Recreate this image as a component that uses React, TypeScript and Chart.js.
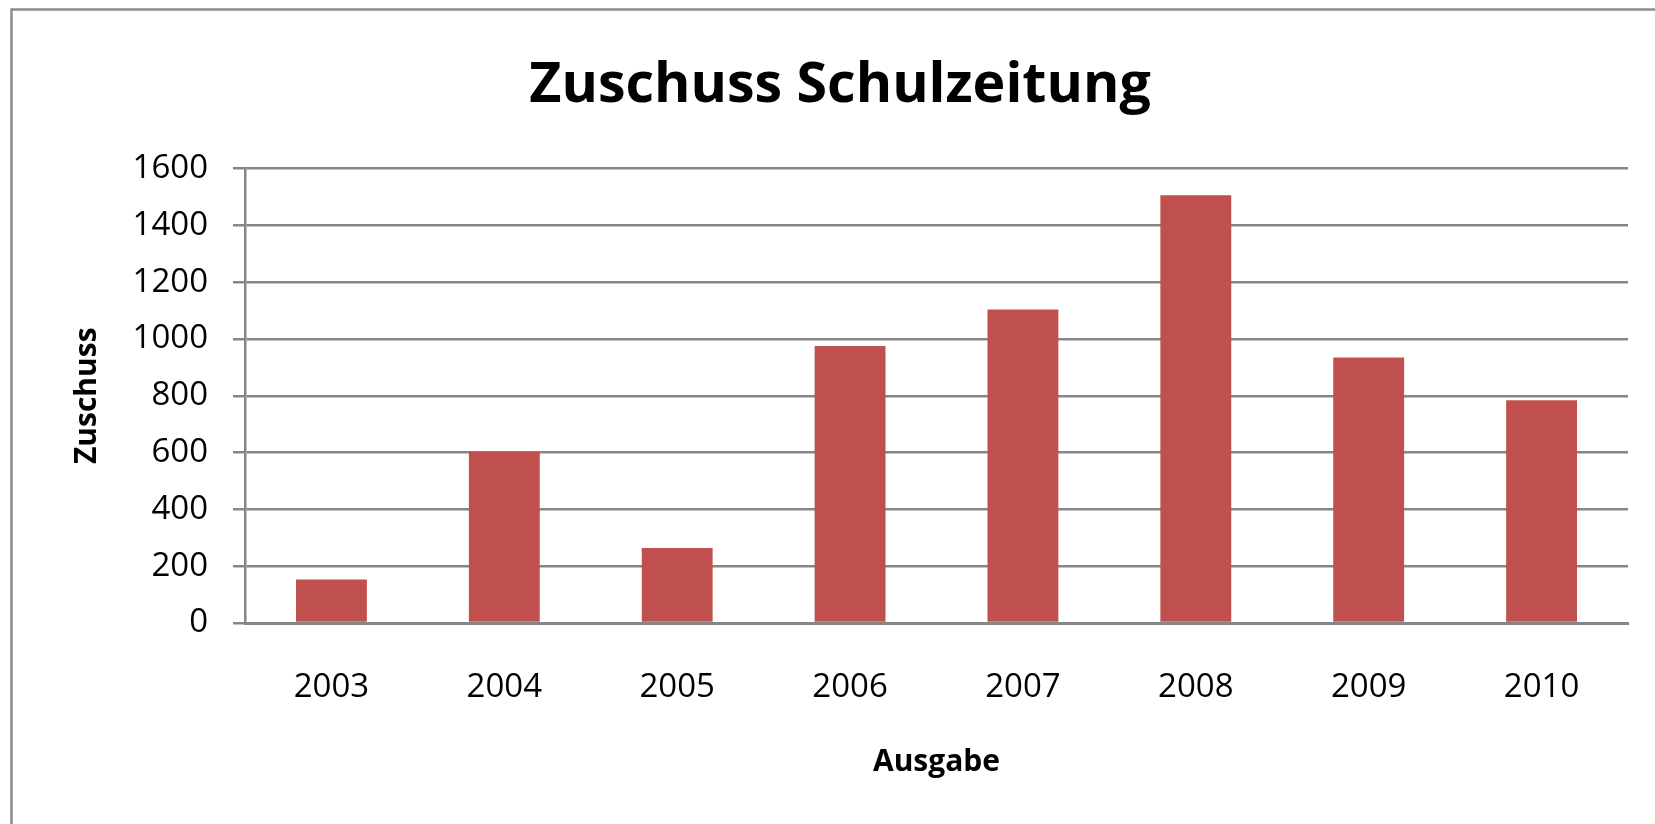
import React, { useEffect, useRef } from "react";
import { Chart, registerables } from "chart.js";

Chart.register(...registerables);

const categories = ["2003", "2004", "2005", "2006", "2007", "2008", "2009", "2010"];
const zuschuss = [153, 603, 264, 975, 1104, 1506, 935, 784];
const yMin = 0;
const yMax = 1600;
const yStep = 200;
const chartTitle = "Zuschuss Schulzeitung";
const xTitle = "Ausgabe";
const yTitle = "Zuschuss";

const FONT = "'Open Sans', 'Noto Sans', sans-serif";
const GRID = "#868686";

const framePlugin = {
  id: "frame",
  beforeDraw(chart: any) {
    const { ctx, width, height } = chart;
    ctx.save();
    ctx.fillStyle = "#ffffff";
    ctx.fillRect(0, 0, width, height);
    ctx.strokeStyle = "#8c8c8c";
    ctx.lineWidth = 2.5;
    ctx.strokeRect(11.5, 9.5, width + 40, height + 40);
    ctx.restore();
  },
};

export default function App() {
  const ref = useRef<HTMLCanvasElement | null>(null);

  useEffect(() => {
    document.body.style.margin = "0";
    const canvas = ref.current!;
    const chart = new Chart(canvas, {
      type: "bar",
      data: {
        labels: categories,
        datasets: [
          {
            label: yTitle,
            data: zuschuss,
            backgroundColor: "#C0504D",
            borderWidth: 0,
            barPercentage: 0.41,
            categoryPercentage: 1,
          },
        ],
      },
      options: {
        responsive: false,
        animation: false,
        devicePixelRatio: 1,
        layout: { padding: { left: 52, right: 27, top: 0, bottom: 0 } },
        plugins: {
          legend: { display: false },
          tooltip: { enabled: false },
          title: {
            display: true,
            text: chartTitle,
            color: "#000000",
            font: { family: FONT, size: 55.5, weight: "bold", lineHeight: 1.2 },
            padding: { top: 53, bottom: 48.9 },
          },
        },
        scales: {
          x: {
            grid: { display: false, drawTicks: false },
            border: { display: true, color: GRID, width: 3 },
            ticks: {
              color: "#000000",
              font: { family: FONT, size: 33, lineHeight: 1.2 },
              padding: 45,
              maxRotation: 0,
            },
            title: {
              display: true,
              text: xTitle,
              color: "#000000",
              font: { family: FONT, size: 30, weight: "bold", lineHeight: 1.2 },
              padding: { top: 0, bottom: 44 },
            },
            afterFit(scale: any) {
              scale.height = 201;
            },
          },
          y: {
            min: yMin,
            max: yMax,
            grid: {
              color: GRID,
              lineWidth: 2.5,
              drawTicks: true,
              tickLength: 12,
              tickColor: GRID,
            },
            border: { display: true, color: GRID, width: 2.5 },
            ticks: {
              stepSize: yStep,
              color: "#000000",
              font: { family: FONT, size: 33, lineHeight: 1.2 },
              padding: 25,
              callback: (v: any) => String(v),
            },
            title: {
              display: true,
              text: yTitle,
              color: "#000000",
              font: { family: FONT, size: 30, weight: "bold", lineHeight: 1.2 },
              padding: { top: 17, bottom: 0 },
            },
            afterFit(scale: any) {
              scale.width = 193;
            },
          },
        },
      },
      plugins: [framePlugin],
    });
    return () => chart.destroy();
  }, []);

  return (
    <canvas
      ref={ref}
      width={1655}
      height={824}
      style={{ display: "block", width: "1655px", height: "824px" }}
    />
  );
}
